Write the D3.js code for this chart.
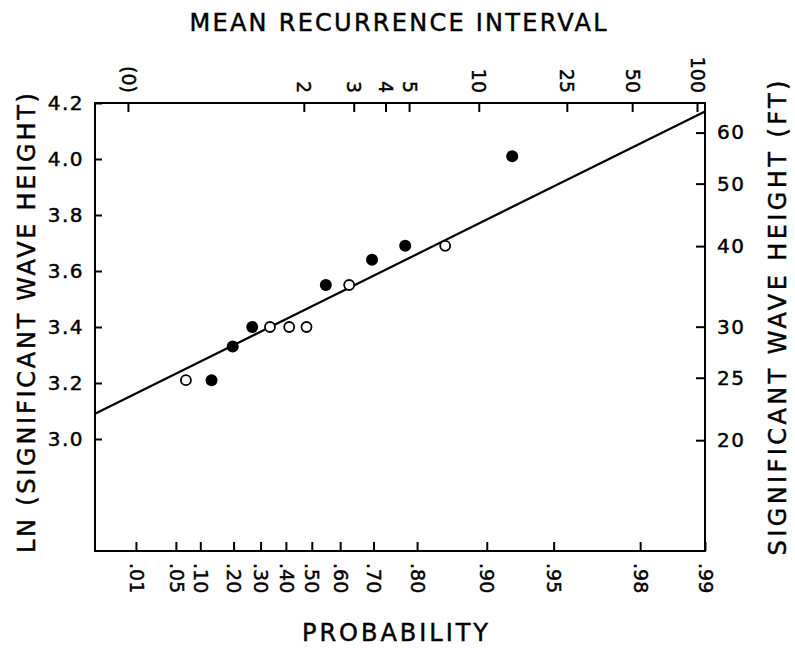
<!DOCTYPE html>
<html>
<head>
<meta charset="utf-8">
<script src="https://cdn.jsdelivr.net/npm/d3@7"></script>
<style>
  body { margin: 0; background: #fff; }
  svg { display: block; font-family: "DejaVu Sans", sans-serif; }
  svg text { fill: #000; stroke: #000; stroke-width: 0.45px; }
</style>
</head>
<body>
<svg id="chart"></svg>
<script>
// bottom axis: cumulative probability (extreme value paper)
const probTicks = [0.01, 0.05, 0.1, 0.2, 0.3, 0.4, 0.5, 0.6, 0.7, 0.8, 0.9, 0.95, 0.98, 0.99];
const probLabels = [".01", ".05", ".10", ".20", ".30", ".40", ".50", ".60", ".70", ".80", ".90", ".95", ".98", ".99"];

// top axis: mean recurrence interval (placed at probability)
const intervalProbs = [0.01, 0.5, 0.667, 0.75, 0.8, 0.9, 0.96, 0.98, 0.99];
const intervalLabels = ["(0)", "2", "3", "4", "5", "10", "25", "50", "100"];

// left / right axes
const lnTicks = [3.0, 3.2, 3.4, 3.6, 3.8, 4.0, 4.2];
const ftTicks = [20, 25, 30, 40, 50, 60];

// observations
const openProb = [0.068, 0.337, 0.413, 0.48, 0.629, 0.848];
const openLn = [3.21, 3.4, 3.4, 3.4, 3.55, 3.69];
const filledProb = [0.13, 0.197, 0.268, 0.551, 0.696, 0.776, 0.923];
const filledLn = [3.21, 3.33, 3.4, 3.55, 3.64, 3.69, 4.01];

// fitted line end points [prob, ln]
const fitProb = [0.00078, 0.99];
const fitLn = [3.09, 4.17];

const W = 795, H = 648;
const frame = { left: 95, right: 705, top: 103, bottom: 551 };

const svg = d3.select("#chart").attr("width", W).attr("height", H);

const gumbel = (p) => -Math.log(-Math.log(p));

const xU = d3
  .scaleLinear()
  .domain([gumbel(0.00078), gumbel(0.99)])
  .range([frame.left, frame.right]);
// top scale printed slightly offset on the original sheet
const xTop = xU.copy().range([frame.left - 8, frame.right - 8]);
const x = (p) => xU(gumbel(p));

const y = d3.scaleLinear().domain([2.6, 4.2]).range([frame.bottom, frame.top]);
const yFt = d3
  .scaleLog()
  .domain(y.domain().map(Math.exp))
  .range(y.range());

// bottom axis
const axisB = svg
  .append("g")
  .attr("transform", `translate(0,${frame.bottom})`)
  .call(
    d3
      .axisBottom(xU)
      .tickValues(probTicks.map(gumbel))
      .tickFormat((d, i) => probLabels[i])
      .tickSizeInner(-9)
      .tickSizeOuter(0)
  );
axisB
  .selectAll("text")
  .attr("transform", "rotate(90)")
  .attr("x", 12)
  .attr("y", 0)
  .attr("dy", "0.36em")
  .attr("text-anchor", "start")
  .attr("font-size", 19);

// top axis
const axisT = svg
  .append("g")
  .attr("transform", `translate(0,${frame.top})`)
  .call(
    d3
      .axisTop(xTop)
      .tickValues(intervalProbs.map(gumbel))
      .tickFormat((d, i) => intervalLabels[i])
      .tickSizeInner(-9)
      .tickSizeOuter(0)
  );
axisT
  .selectAll("text")
  .attr("transform", "rotate(90)")
  .attr("x", -10)
  .attr("y", 0)
  .attr("dy", "0.36em")
  .attr("text-anchor", "end")
  .attr("font-size", 19);

// left axis
const axisL = svg
  .append("g")
  .attr("transform", `translate(${frame.left},0)`)
  .call(
    d3
      .axisLeft(y)
      .tickValues(lnTicks)
      .tickFormat(d3.format(".1f"))
      .tickSizeInner(-7)
      .tickSizeOuter(0)
      .tickPadding(11)
  );
axisL.selectAll("text").attr("font-size", 20).attr("letter-spacing", 1.5);

// right axis
const axisR = svg
  .append("g")
  .attr("transform", `translate(${frame.right},0)`)
  .call(
    d3
      .axisRight(yFt)
      .tickValues(ftTicks)
      .tickFormat(d3.format("d"))
      .tickSizeInner(-9)
      .tickSizeOuter(0)
      .tickPadding(12)
  );
axisR.selectAll("text").attr("font-size", 20).attr("letter-spacing", 1.5);

svg.selectAll(".domain").remove();
svg
  .selectAll(".tick line")
  .attr("stroke", "#000")
  .attr("stroke-width", 2);
svg.selectAll("g").attr("font-family", null);

// frame
svg
  .append("rect")
  .attr("x", frame.left)
  .attr("y", frame.top)
  .attr("width", frame.right - frame.left)
  .attr("height", frame.bottom - frame.top)
  .attr("fill", "none")
  .attr("stroke", "#000")
  .attr("stroke-width", 2);

// fitted line
svg
  .append("path")
  .datum(fitProb.map((p, i) => ({ p: p, v: fitLn[i] })))
  .attr("fill", "none")
  .attr("stroke", "#000")
  .attr("stroke-width", 2.2)
  .attr(
    "d",
    d3
      .line()
      .x((d) => x(d.p))
      .y((d) => y(d.v))
  );

// points
svg
  .selectAll(".open")
  .data(openProb.map((p, i) => ({ p: p, v: openLn[i] })))
  .enter()
  .append("circle")
  .attr("class", "open")
  .attr("cx", (d) => x(d.p))
  .attr("cy", (d) => y(d.v))
  .attr("r", 5)
  .attr("fill", "#fff")
  .attr("stroke", "#000")
  .attr("stroke-width", 1.8);

svg
  .selectAll(".filled")
  .data(filledProb.map((p, i) => ({ p: p, v: filledLn[i] })))
  .enter()
  .append("circle")
  .attr("class", "filled")
  .attr("cx", (d) => x(d.p))
  .attr("cy", (d) => y(d.v))
  .attr("r", 6)
  .attr("fill", "#000");

// axis titles
svg
  .append("text")
  .attr("x", 398)
  .attr("y", 31)
  .attr("text-anchor", "middle")
  .attr("font-size", 24)
  .attr("textLength", 417)
  .attr("lengthAdjust", "spacing")
  .text("MEAN RECURRENCE INTERVAL");

svg
  .append("text")
  .attr("x", 395)
  .attr("y", 641)
  .attr("text-anchor", "middle")
  .attr("font-size", 24)
  .attr("textLength", 186)
  .attr("lengthAdjust", "spacing")
  .text("PROBABILITY");

svg
  .append("text")
  .attr("transform", "translate(35,323) rotate(-90)")
  .attr("text-anchor", "middle")
  .attr("font-size", 24)
  .attr("textLength", 460)
  .attr("lengthAdjust", "spacing")
  .text("LN (SIGNIFICANT WAVE HEIGHT)");

svg
  .append("text")
  .attr("transform", "translate(786,318) rotate(-90)")
  .attr("text-anchor", "middle")
  .attr("font-size", 24)
  .attr("textLength", 475)
  .attr("lengthAdjust", "spacing")
  .text("SIGNIFICANT WAVE HEIGHT (FT)");
</script>
</body>
</html>
